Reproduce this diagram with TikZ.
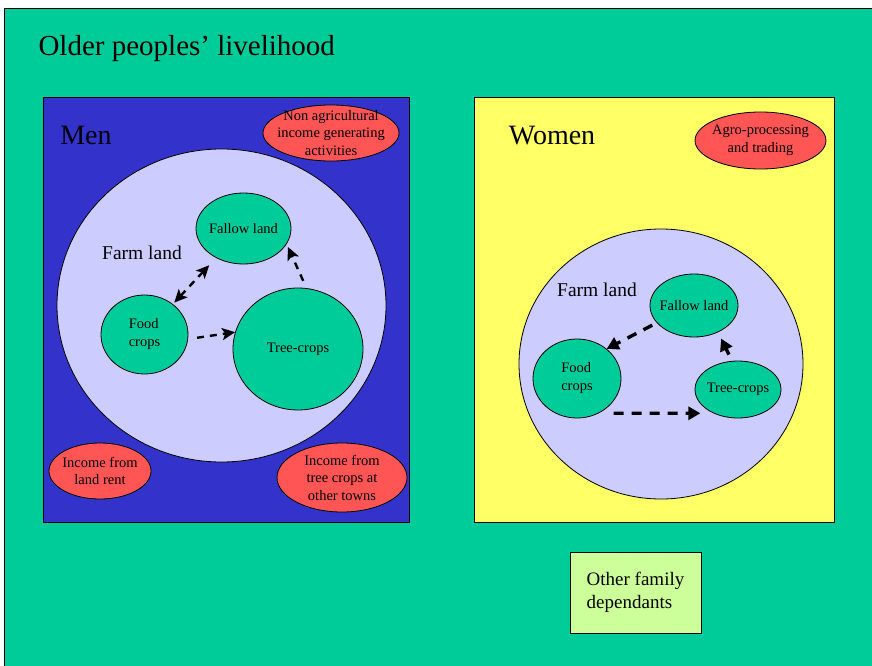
\documentclass[tikz,border=0pt]{standalone}
\usepackage{fontspec}
\setmainfont{Liberation Serif}
\usetikzlibrary{shapes.geometric,arrows.meta}
\definecolor{slidegreen}{HTML}{00CC99}
\definecolor{menblue}{HTML}{3333CC}
\definecolor{womenyellow}{HTML}{FFFF66}
\definecolor{farmlilac}{HTML}{CCCCFF}
\definecolor{incomered}{HTML}{FF5555}
\definecolor{familylime}{HTML}{CCFF99}
\begin{document}
\begin{tikzpicture}[x=1pt, y=-1pt,
        box/.style={draw=black, line width=0.8pt, inner sep=0pt},
        farm/.style={ellipse, draw=black, line width=0.8pt, fill=farmlilac, inner sep=0pt},
        crop/.style={ellipse, draw=black, line width=0.8pt, fill=slidegreen, inner sep=0pt,
            label={[align=left, font=\fontsize{14.5}{18}\selectfont]center:#1}},
        income/.style={ellipse, draw=black, line width=0.8pt, fill=incomered, inner sep=0pt,
            label={[align=center, font=\fontsize{14.5}{17.5}\selectfont]center:#1}},
        heading/.style={font=\fontsize{28}{34}\selectfont},
        farmtext/.style={font=\fontsize{19.5}{24}\selectfont},
        menflow/.style={line width=2.4pt, dash pattern=on 7pt off 6pt,
            >={Stealth[length=13pt, width=12pt, inset=3pt]}},
        womenflow/.style={line width=3.4pt, dash pattern=on 10pt off 8pt,
            >={Triangle[length=12pt, width=13pt]}}]
    \useasboundingbox (0,0) rectangle (872,666);
    \clip (0,0) rectangle (872,666);
    \draw[fill=slidegreen, line width=1pt] (4,9) rectangle (880,680);
    \node[anchor=west, font=\fontsize{29}{36}\selectfont] (title) at (35,49) {Older peoples' livelihood};

    \node[box, fill=menblue, minimum width=366, minimum height=425] (menbox) at (226,309.5) {};
    \node[heading] (menlabel) at (86,135) {Men};
    \node[farm, minimum width=329, minimum height=313] (menfarm) at (221.5,305.5) {};
    \node[farmtext] (menfarmlabel) at (142,253) {Farm land};
    \node[crop={Fallow land}, minimum width=95, minimum height=71] (menfallow) at (243.5,228.5) {};
    \node[crop={Food\\crops}, minimum width=87, minimum height=79] (menfood) at (144.5,334.5) {};
    \node[crop={Tree-crops}, minimum width=130, minimum height=122] (mentree) at (298,349) {};
    \node[income={Non agricultural\\income generating\\activities}, minimum width=136, minimum height=56] (nonagri) at (331,133) {};
    \node[income={Income from\\land rent}, minimum width=102, minimum height=56] (landrent) at (100,471) {};
    \node[income={Income from\\tree crops at\\other towns}, minimum width=130, minimum height=69] (othertowns) at (342,477.5) {};
    \draw[menflow, <->, shorten <=2pt, shorten >=10pt] (menfood) -- (menfallow);
    \draw[menflow, ->, shorten <=9pt] (menfood.-6) -- (mentree.165);
    \draw[menflow, ->, shorten <=8pt, shorten >=3pt] (mentree.82) -- (menfallow.-20);

    \node[box, fill=womenyellow, minimum width=360, minimum height=425] (womenbox) at (654,309.5) {};
    \node[heading] (womenlabel) at (552,136) {Women};
    \node[income={Agro-processing\\and trading}, minimum width=131, minimum height=57] (agro) at (760.5,140.5) {};
    \node[farm, minimum width=284, minimum height=270] (womenfarm) at (661,364) {};
    \node[farmtext] (womenfarmlabel) at (597,290) {Farm land};
    \node[crop={Fallow land}, minimum width=88, minimum height=63] (womenfallow) at (694,305.5) {};
    \node[crop={Food\\crops}, minimum width=88, minimum height=79] (womenfood) at (577,378.5) {};
    \node[crop={Tree-crops}, minimum width=86, minimum height=57] (womentree) at (738,389.5) {};
    \draw[womenflow, ->, shorten <=5pt] (womenfallow.205) -- (womenfood.45);
    \draw[womenflow, ->, shorten <=15pt, shorten >=13pt] (womenfood.-58) -- (womentree.224);
    \draw[womenflow, ->, shorten <=7pt, shorten >=7pt] (womentree.102) -- (womenfallow.-48);

    \node[box, fill=familylime, minimum width=131, minimum height=81, align=left,
        font=\fontsize{19}{23}\selectfont] (dependants) at (635.5,592.5) {Other family\\dependants};
\end{tikzpicture}
\end{document}
